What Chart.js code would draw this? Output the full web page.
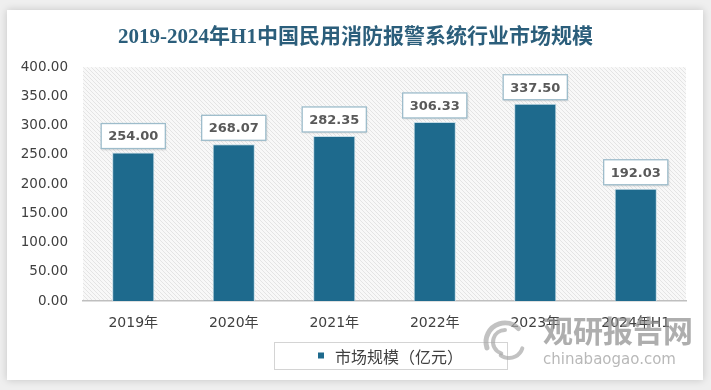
<!DOCTYPE html>
<html><head><meta charset="utf-8">
<script src="https://cdn.jsdelivr.net/npm/chart.js@4.4.1/dist/chart.umd.min.js"></script>
<style>html,body{margin:0;padding:0;background:#efefef;overflow:hidden}canvas{display:block}</style>
</head><body>
<canvas id="c" width="711" height="390"></canvas>
<script>
const categories = ['2019年', '2020年', '2021年', '2022年', '2023年', '2024年H1'];
const marketSize = [254.00, 268.07, 282.35, 306.33, 337.50, 192.03];
const seriesName = '市场规模（亿元）';
const chartTitle = '2019-2024年H1中国民用消防报警系统行业市场规模';
const yMin = 0, yMax = 400, yStep = 50;
const watermarkCn = '观研报告网';
const watermarkEn = 'chinabaogao.com';

const BAR = '#1E6A8D';
const SANS = "'DejaVu Sans', 'Noto Sans CJK SC', sans-serif";

function makePattern(ctx) {
  const p = document.createElement('canvas');
  p.width = 4; p.height = 4;
  const g = p.getContext('2d');
  g.fillStyle = '#f8f8f8'; g.fillRect(0, 0, 4, 4);
  g.strokeStyle = '#e4e4e4'; g.lineWidth = 1;
  g.beginPath(); g.moveTo(0, 0); g.lineTo(4, 4); g.moveTo(-1, 3); g.lineTo(1, 5); g.moveTo(3, -1); g.lineTo(5, 1); g.stroke();
  return ctx.createPattern(p, 'repeat');
}

const decor = {
  id: 'decor',
  afterLayout(chart) {
    if (chart.titleBlock) chart.titleBlock.left = 25;
  },
  beforeDraw(chart) {
    const ctx = chart.ctx;
    ctx.save();
    ctx.fillStyle = '#efefef';
    ctx.fillRect(0, 0, chart.width, chart.height);
    ctx.shadowColor = 'rgba(0,0,0,0.18)';
    ctx.shadowBlur = 8;
    ctx.fillStyle = '#ffffff';
    ctx.fillRect(7, 10, 696, 370);
    ctx.restore();
    const a = chart.chartArea;
    ctx.save();
    ctx.fillStyle = makePattern(ctx);
    ctx.fillRect(a.left, a.top, a.right - a.left, a.bottom - a.top);
    ctx.restore();
  },
  afterDatasetsDraw(chart) {
    const ctx = chart.ctx;
    const meta = chart.getDatasetMeta(0);
    const ds = chart.data.datasets[0].data;
    ctx.save();
    ctx.font = "bold 13px " + SANS;
    meta.data.forEach((bar, i) => {
      const txt = ds[i].toFixed(2);
      const w = ctx.measureText(txt).width + 14;
      const h = 25;
      const x = bar.x - w / 2;
      const y = bar.y - 4 - h;
      ctx.save();
      ctx.shadowColor = 'rgba(0,0,0,0.15)';
      ctx.shadowBlur = 2; ctx.shadowOffsetX = 1; ctx.shadowOffsetY = 1;
      ctx.fillStyle = '#ffffff';
      ctx.fillRect(x, y, w, h);
      ctx.restore();
      ctx.strokeStyle = '#9dbccb'; ctx.lineWidth = 1.3;
      ctx.strokeRect(x, y, w, h);
      ctx.fillStyle = '#595959';
      ctx.textAlign = 'center'; ctx.textBaseline = 'middle';
      ctx.fillText(txt, bar.x, y + h / 2 + 1);
    });
    ctx.restore();
  },
  afterDraw(chart) {
    const ctx = chart.ctx;
    const a = chart.chartArea;
    // legend
    const cx = (a.left + a.right) / 2 + 6;
    ctx.save();
    ctx.font = "16px 'Noto Sans CJK SC', sans-serif";
    const label = chart.data.datasets[0].label;
    const tw = ctx.measureText(label).width;
    const bw = 233, bh = 27, bx = cx - bw / 2, by = 342;
    ctx.strokeStyle = '#d4d4d4'; ctx.lineWidth = 1;
    ctx.strokeRect(bx + 0.5, by + 0.5, bw, bh);
    const startX = cx - (tw + 17) / 2;
    ctx.fillStyle = BAR;
    ctx.fillRect(startX, by + bh / 2 - 3, 6, 6);
    ctx.fillStyle = '#404040';
    ctx.textBaseline = 'middle'; ctx.textAlign = 'left';
    ctx.fillText(label, startX + 17, by + bh / 2 + 1);
    ctx.restore();
    // watermark
    ctx.save();
    ctx.globalAlpha = 0.7;
    ctx.strokeStyle = '#a8a8a8';
    ctx.lineCap = 'round';
    const lx = 505, ly = 342;
    ctx.lineWidth = 5;
    ctx.beginPath(); ctx.arc(lx, ly, 19, Math.PI * 0.9, Math.PI * 1.75); ctx.stroke();
    ctx.lineWidth = 4;
    ctx.beginPath(); ctx.arc(lx, ly, 12, Math.PI * 0.6, Math.PI * 1.5); ctx.stroke();
    ctx.beginPath(); ctx.arc(lx + 4, ly + 2, 14, Math.PI * 0.1, Math.PI * 0.7); ctx.stroke();
    ctx.fillStyle = '#8c8c8c';
    ctx.font = "bold 30px 'Noto Sans CJK SC', sans-serif";
    ctx.textAlign = 'left'; ctx.textBaseline = 'middle';
    ctx.fillText(watermarkCn, 543, 331);
    ctx.font = "15px 'DejaVu Sans', sans-serif";
    ctx.fillStyle = '#9a9a9a';
    ctx.fillText(watermarkEn, 543, 360);
    ctx.restore();
  }
};

new Chart(document.getElementById('c'), {
  type: 'bar',
  data: {
    labels: categories,
    datasets: [{
      label: seriesName,
      data: marketSize,
      backgroundColor: BAR,
      borderColor: '#c3dbe6',
      borderWidth: 1,
      categoryPercentage: 1,
      barPercentage: 0.42
    }]
  },
  options: {
    responsive: false,
    animation: false,
    layout: { padding: { left: 8, right: 25, top: 0, bottom: 0 } },
    plugins: {
      legend: { display: false },
      tooltip: { enabled: false },
      title: {
        display: true,
        text: chartTitle,
        color: '#2B5E7B',
        font: { family: "'Liberation Serif', 'Noto Sans CJK SC', serif", size: 21, weight: 'bold', lineHeight: 1.2 },
        padding: { top: 25, bottom: 17 }
      }
    },
    scales: {
      x: {
        grid: { display: false, drawTicks: false },
        border: { display: true, color: '#bfbfbf', width: 1.5 },
        ticks: { color: '#404040', font: { family: SANS, size: 14 }, padding: 14, maxRotation: 0 },
        afterFit(s) { s.height = 89; }
      },
      y: {
        min: yMin, max: yMax,
        grid: { display: false, drawTicks: false },
        border: { display: false },
        ticks: { stepSize: yStep, color: '#404040', font: { family: SANS, size: 13.5 }, padding: 15,
          callback: v => Number(v).toFixed(2) },
        afterFit(s) { s.width = 75; }
      }
    }
  },
  plugins: [decor]
});
</script>
</body></html>
